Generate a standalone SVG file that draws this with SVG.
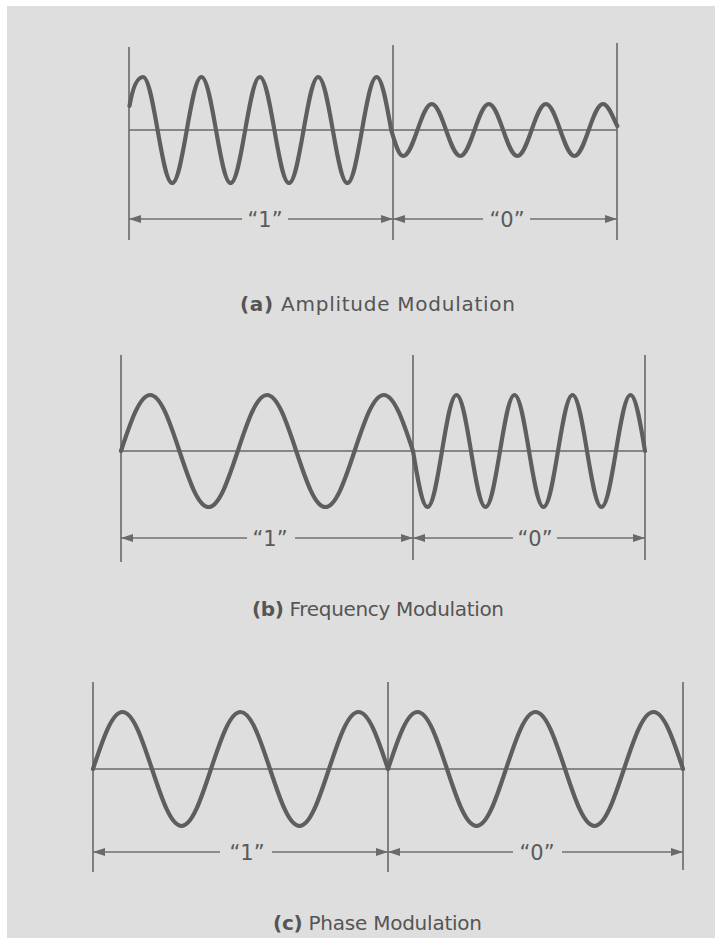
<svg xmlns="http://www.w3.org/2000/svg" width="715" height="938" viewBox="0 0 715 938">
<defs>
<style>
.bg{fill:#dedede}
.ln{stroke:#686868;stroke-width:1.6;fill:none}
.wave{stroke:#5e5e5e;stroke-width:4.2;fill:none;stroke-linejoin:round;stroke-linecap:round}
.dim{stroke:#707070;stroke-width:1.5;fill:none}
.lbl{font-family:"DejaVu Sans","Liberation Sans",sans-serif;font-size:21px;fill:#5a5a5a;text-anchor:middle}
.cap{font-family:"DejaVu Sans","Liberation Sans",sans-serif;font-size:20px;fill:#555555}
</style>
<marker id="ah" viewBox="0 0 12 8" refX="12" refY="4" markerWidth="12" markerHeight="8" markerUnits="userSpaceOnUse" orient="auto-start-reverse">
<path d="M0,0 L12,4 L0,8 z" fill="#6a6a6a"/>
</marker>
</defs>
<rect x="0" y="0" width="715" height="938" fill="#ffffff"/>
<rect class="bg" x="7" y="6" width="708" height="932"/>

<g id="panel-a">
<line class="ln" x1="129" y1="47" x2="129" y2="240"/>
<line class="ln" x1="393" y1="45" x2="393" y2="240"/>
<line class="ln" x1="617" y1="43" x2="617" y2="240"/>
<line class="ln" x1="129" y1="130" x2="617" y2="130"/>
<path class="wave" d="M129.5,106 C133,86 137.5,77 143,77
c 5.26,0 9.72,25.17 14.6,53 c 4.88,27.83 9.34,53 14.6,53 c 5.26,0 9.72,-25.17 14.6,-53 c 4.88,-27.83 9.34,-53 14.6,-53
c 5.26,0 9.72,25.17 14.6,53 c 4.88,27.83 9.34,53 14.6,53 c 5.26,0 9.72,-25.17 14.6,-53 c 4.88,-27.83 9.34,-53 14.6,-53
c 5.26,0 9.72,25.17 14.6,53 c 4.88,27.83 9.34,53 14.6,53 c 5.26,0 9.72,-25.17 14.6,-53 c 4.88,-27.83 9.34,-53 14.6,-53
c 5.26,0 9.72,25.17 14.6,53 c 4.88,27.83 9.34,53 14.6,53 c 5.26,0 9.72,-25.17 14.6,-53 c 4.88,-27.83 9.34,-53 14.6,-53
c 5.26,0 9.72,25.17 14.6,53
c 4.01,13.65 7.68,26 12,26
c 5.14,0 9.5,-12.35 14.27,-26 c 4.77,-13.65 9.13,-26 14.27,-26 c 5.14,0 9.5,12.35 14.27,26 c 4.77,13.65 9.13,26 14.27,26
c 5.14,0 9.5,-12.35 14.27,-26 c 4.77,-13.65 9.13,-26 14.27,-26 c 5.14,0 9.5,12.35 14.27,26 c 4.77,13.65 9.13,26 14.27,26
c 5.14,0 9.5,-12.35 14.27,-26 c 4.77,-13.65 9.13,-26 14.27,-26 c 5.14,0 9.5,12.35 14.27,26 c 4.77,13.65 9.13,26 14.27,26
c 5.14,0 9.5,-12.35 14.27,-26 c 4.77,-13.65 9.13,-26 14.27,-26 c 5.14,0 9.5,12.35 14.27,22"/>
<text class="lbl" x="265" y="227">“1”</text>
<text class="lbl" x="507" y="227">“0”</text>
<text class="cap" x="240" y="311" textLength="275" lengthAdjust="spacing"><tspan font-weight="bold">(a)</tspan> Amplitude Modulation</text>
</g>

<g id="panel-b">
<line class="ln" x1="121" y1="355" x2="121" y2="562"/>
<line class="ln" x1="413" y1="355" x2="413" y2="560"/>
<line class="ln" x1="645" y1="355" x2="645" y2="560"/>
<line class="ln" x1="121" y1="451" x2="645" y2="451"/>
<path class="wave" d="M121,451
c 9.76,-29.41 18.69,-56 29.2,-56 c 10.51,0 19.44,26.59 29.2,56 c 9.76,29.41 18.69,56 29.2,56 c 10.51,0 19.44,-26.59 29.2,-56
c 9.76,-29.41 18.69,-56 29.2,-56 c 10.51,0 19.44,26.59 29.2,56 c 9.76,29.41 18.69,56 29.2,56 c 10.51,0 19.44,-26.59 29.2,-56
c 9.76,-29.41 18.69,-56 29.2,-56 c 10.51,0 19.44,26.59 29.2,56
c 4.85,29.41 9.28,56 14.5,56 c 5.22,0 9.65,-26.59 14.5,-56 c 4.85,-29.41 9.28,-56 14.5,-56 c 5.22,0 9.65,26.59 14.5,56
c 4.85,29.41 9.28,56 14.5,56 c 5.22,0 9.65,-26.59 14.5,-56 c 4.85,-29.41 9.28,-56 14.5,-56 c 5.22,0 9.65,26.59 14.5,56
c 4.85,29.41 9.28,56 14.5,56 c 5.22,0 9.65,-26.59 14.5,-56 c 4.85,-29.41 9.28,-56 14.5,-56 c 5.22,0 9.65,26.59 14.5,56
c 4.85,29.41 9.28,56 14.5,56 c 5.22,0 9.65,-26.59 14.5,-56 c 4.85,-29.41 9.28,-56 14.5,-56 c 5.22,0 9.65,26.59 14.5,56"/>
<text class="lbl" x="270" y="546">“1”</text>
<text class="lbl" x="535" y="546">“0”</text>
<text class="cap" x="252" y="616" textLength="252" lengthAdjust="spacing"><tspan font-weight="bold">(b)</tspan> Frequency Modulation</text>
</g>

<g id="panel-c">
<line class="ln" x1="93" y1="682" x2="93" y2="872"/>
<line class="ln" x1="388" y1="682" x2="388" y2="872"/>
<line class="ln" x1="683" y1="682" x2="683" y2="870"/>
<line class="ln" x1="93" y1="769" x2="683" y2="769"/>
<path class="wave" d="M93,769
c 9.86,-29.93 18.88,-57 29.5,-57 c 10.62,0 19.64,27.07 29.5,57 c 9.86,29.93 18.88,57 29.5,57 c 10.62,0 19.64,-27.07 29.5,-57
c 9.86,-29.93 18.88,-57 29.5,-57 c 10.62,0 19.64,27.07 29.5,57 c 9.86,29.93 18.88,57 29.5,57 c 10.62,0 19.64,-27.07 29.5,-57
c 9.86,-29.93 18.88,-57 29.5,-57 c 10.62,0 19.64,27.07 29.5,57
c 9.86,-29.93 18.88,-57 29.5,-57 c 10.62,0 19.64,27.07 29.5,57 c 9.86,29.93 18.88,57 29.5,57 c 10.62,0 19.64,-27.07 29.5,-57
c 9.86,-29.93 18.88,-57 29.5,-57 c 10.62,0 19.64,27.07 29.5,57 c 9.86,29.93 18.88,57 29.5,57 c 10.62,0 19.64,-27.07 29.5,-57
c 9.86,-29.93 18.88,-57 29.5,-57 c 10.62,0 19.64,27.07 29.5,57"/>
<text class="lbl" x="247" y="860">“1”</text>
<text class="lbl" x="537" y="860">“0”</text>
<text class="cap" x="273" y="930" textLength="209" lengthAdjust="spacing"><tspan font-weight="bold">(c)</tspan> Phase Modulation</text>
</g>

<g id="connectors">
<line class="dim" x1="242" y1="219" x2="129" y2="219" marker-end="url(#ah)"/>
<line class="dim" x1="288" y1="219" x2="393" y2="219" marker-end="url(#ah)"/>
<line class="dim" x1="483" y1="219" x2="393" y2="219" marker-end="url(#ah)"/>
<line class="dim" x1="530" y1="219" x2="617" y2="219" marker-end="url(#ah)"/>
<line class="dim" x1="247" y1="538" x2="121" y2="538" marker-end="url(#ah)"/>
<line class="dim" x1="295" y1="538" x2="413" y2="538" marker-end="url(#ah)"/>
<line class="dim" x1="513" y1="538" x2="413" y2="538" marker-end="url(#ah)"/>
<line class="dim" x1="557" y1="538" x2="645" y2="538" marker-end="url(#ah)"/>
<line class="dim" x1="220" y1="852" x2="93" y2="852" marker-end="url(#ah)"/>
<line class="dim" x1="272" y1="852" x2="388" y2="852" marker-end="url(#ah)"/>
<line class="dim" x1="513" y1="852" x2="388" y2="852" marker-end="url(#ah)"/>
<line class="dim" x1="562" y1="852" x2="683" y2="852" marker-end="url(#ah)"/>
</g>
</svg>
